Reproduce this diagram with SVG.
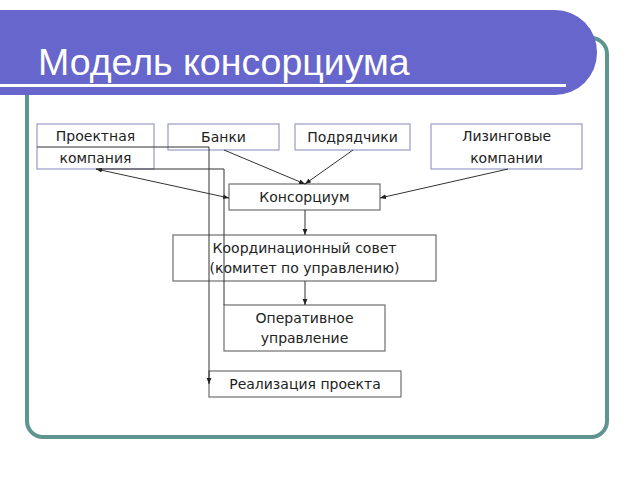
<svg xmlns="http://www.w3.org/2000/svg" width="640" height="480" viewBox="0 0 640 480">
<defs>
<style>
.top{fill:#fff;stroke:#9a9ac8;stroke-width:1.2}
.low{fill:#fff;stroke:#6e6e6e;stroke-width:1.2}
.t{font-family:"DejaVu Sans",Verdana,sans-serif;font-size:14px;fill:#222;text-anchor:middle}
.c{fill:none;stroke:#333;stroke-width:1}
</style>
<marker id="ah" viewBox="0 0 10 10" refX="10" refY="5" markerWidth="6" markerHeight="6" orient="auto-start-reverse" markerUnits="userSpaceOnUse">
<path d="M0,1 L10,5 L0,9 z" fill="#222"/>
</marker>
</defs>
<rect width="640" height="480" fill="#fff"/>
<rect id="frame" x="27" y="38" width="580" height="399" rx="16" ry="16" fill="#fff" stroke="#5f9490" stroke-width="4"/>
<g id="header">
<path d="M0,10 H555 A42,42 0 0 1 597,52 V53 A42,42 0 0 1 555,95 H0 Z" fill="#6666cc"/>
<rect x="0" y="84" width="566" height="3" fill="#fff"/>
<text x="38" y="75" font-family="'Liberation Sans',Arial,sans-serif" font-size="37.5" fill="#fff">Модель консорциума</text>
</g>
<g id="n1"><rect class="top" x="37" y="124" width="117" height="45"/><text class="t" x="95.5" y="141">Проектная</text><text class="t" x="95.5" y="163">компания</text></g>
<g id="n2"><rect class="top" x="168" y="124" width="111" height="26"/><text class="t" x="223.5" y="142">Банки</text></g>
<g id="n3"><rect class="top" x="295" y="124" width="115" height="26"/><text class="t" x="352.5" y="142">Подрядчики</text></g>
<g id="n4"><rect class="top" x="431" y="124" width="151" height="45"/><text class="t" x="506.5" y="141">Лизинговые</text><text class="t" x="506.5" y="163">компании</text></g>
<g id="n5"><rect class="low" x="229" y="184" width="151" height="26"/><text class="t" x="304.5" y="202">Консорциум</text></g>
<g id="n6"><rect class="low" x="173" y="235" width="263" height="46"/><text class="t" x="304.5" y="253">Координационный совет</text><text class="t" x="304.5" y="273">(комитет по управлению)</text></g>
<g id="n7"><rect class="low" x="224" y="305" width="161" height="46"/><text class="t" x="304.5" y="323">Оперативное</text><text class="t" x="304.5" y="343">управление</text></g>
<g id="n8"><rect class="low" x="209" y="371" width="192" height="26"/><text class="t" x="305" y="389">Реализация проекта</text></g>
<g id="connectors">
<line class="c" x1="224" y1="150" x2="305" y2="184" marker-end="url(#ah)"/>
<line class="c" x1="353" y1="150" x2="305" y2="184" marker-end="url(#ah)"/>
<line class="c" x1="508" y1="169" x2="380" y2="198" marker-end="url(#ah)"/>
<line class="c" x1="96" y1="169" x2="229" y2="198" marker-start="url(#ah)" marker-end="url(#ah)"/>
<line class="c" x1="305" y1="210" x2="305" y2="235" marker-end="url(#ah)"/>
<line class="c" x1="305" y1="281" x2="305" y2="305" marker-end="url(#ah)"/>
<polyline class="c" points="224,305 224,169 96,169"/>
<polyline class="c" points="37,147 209,147 209,384" marker-end="url(#ah)"/>
</g>
</svg>
